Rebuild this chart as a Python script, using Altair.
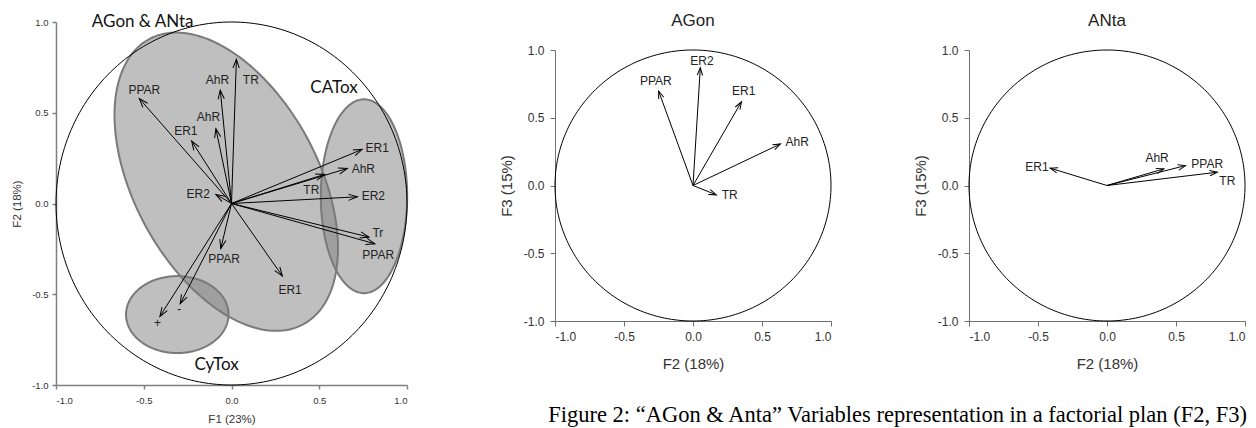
import numpy as np
import pandas as pd
import altair as alt

# ---------------- data ----------------
# Left panel: F1 (23%) x F2 (18%)
left_names = ["PPAR", "AhR", "TR", "AhR", "ER1", "ER2", "ER1", "AhR", "TR",
              "ER2", "Tr", "PPAR", "PPAR", "ER1", "+", "-"]
left_x = [-0.525, -0.064, 0.028, -0.089, -0.227, -0.089, 0.745, 0.660, 0.530,
          0.717, 0.783, 0.817, -0.061, 0.290, -0.408, -0.292]
left_y = [0.578, 0.624, 0.795, 0.412, 0.344, 0.050, 0.298, 0.193, 0.160,
          0.037, -0.185, -0.222, -0.248, -0.400, -0.622, -0.552]
left_lx = [-0.497, -0.080, 0.110, -0.131, -0.260, -0.190, 0.830, 0.751, 0.455,
           0.808, 0.834, 0.836, -0.042, 0.334, -0.421, -0.298]
left_ly = [0.624, 0.679, 0.679, 0.477, 0.399, 0.055, 0.307, 0.191, 0.072,
           0.042, -0.162, -0.285, -0.304, -0.475, -0.659, -0.580]

group_names = ["AGon & ANta", "CATox", "CyTox"]
group_lx = [-0.506, 0.584, -0.085]
group_ly = [1.0, 0.638, -0.889]
ell_cx = [-0.03, 0.755, -0.309]
ell_cy = [0.12, 0.04, -0.612]
ell_a = [0.90, 0.246, 0.292]
ell_b = [0.52, 0.534, 0.212]
ell_angle = [-60.0, 0.0, 0.0]

# AGon panel: F2 (18%) x F3 (15%)
agon_names = ["PPAR", "ER2", "ER1", "AhR", "TR"]
agon_x = [-0.249, 0.053, 0.351, 0.634, 0.169]
agon_y = [0.697, 0.869, 0.618, 0.307, -0.069]
agon_lx = [-0.269, 0.065, 0.368, 0.755, 0.266]
agon_ly = [0.771, 0.918, 0.697, 0.324, -0.069]

# ANta panel: F2 (18%) x F3 (15%)
anta_names = ["ER1", "AhR", "PPAR", "TR"]
anta_x = [-0.412, 0.412, 0.569, 0.799]
anta_y = [0.128, 0.123, 0.147, 0.098]
anta_lx = [-0.508, 0.363, 0.726, 0.872]
anta_ly = [0.133, 0.206, 0.157, 0.034]

tick_values = [-1.0, -0.5, 0.0, 0.5, 1.0]
caption = "Figure 2: \u201cAGon & Anta\u201d Variables representation in a factorial plan (F2, F3)"

# ---------------- helpers ----------------
SANS = "Liberation Sans"
MINUS_FIX = "replace(datum.label, '\u2212', '-')"
HEAD = "M -0.6 1.7 L 0 0 L 0.6 1.7"


def make_axis(title, small, orient):
    if small:
        return alt.Axis(title=title, values=tick_values, format=".1f", labelExpr=MINUS_FIX,
                        grid=False, domainColor="#808080", domainWidth=1.5,
                        tickColor="#808080", tickWidth=1.5, tickSize=4,
                        labelFont=SANS, labelFontSize=9.5, labelColor="#333333",
                        labelPadding=6 if orient == "x" else 4,
                        titleFont=SANS, titleFontSize=11.5, titleFontWeight="normal",
                        titleColor="#333333", titlePadding=9)
    return alt.Axis(title=title, values=tick_values, format=".1f", labelExpr=MINUS_FIX,
                    grid=False, domainColor="#707070", domainWidth=1,
                    tickColor="#707070", tickWidth=1, tickSize=5,
                    labelFont=SANS, labelFontSize=12, labelColor="#333333",
                    labelPadding=5 if orient == "x" else 6,
                    titleFont=SANS, titleFontSize=15, titleFontWeight="normal",
                    titleColor="#333333", titlePadding=14 if orient == "x" else 9)


def panel(names, xs, ys, lxs, lys, w, h, top, xtitle, ytitle, small, label_size,
          head_size, extra_back=(), extra_front=()):
    # top: empty pixels above the data region inside the view
    sx_scale = alt.Scale(domain=[-1, 1], nice=False, zero=False)
    sy_scale = alt.Scale(domain=[-1, 1], nice=False, zero=False, range=[h, top])
    xa = make_axis(xtitle, small, "x")
    ya = make_axis(ytitle, small, "y")

    def X(f):
        return alt.X(f, type="quantitative", scale=sx_scale, axis=xa)

    def Y(f, **kw):
        return alt.Y(f, type="quantitative", scale=sy_scale, axis=ya, **kw)

    sx, sy = w / 2.0, (h - top) / 2.0
    ang = [float(np.degrees(np.arctan2(x * sx, y * sy)) % 360) for x, y in zip(xs, ys)]
    arr = pd.DataFrame({"name": names, "x": xs, "y": ys, "lx": lxs, "ly": lys,
                        "ox": 0.0, "oy": 0.0, "ang": ang})

    t = np.linspace(0, 2 * np.pi, 241)
    circ = pd.DataFrame({"cx": np.cos(t), "cy": np.sin(t), "i": np.arange(len(t))})

    layers = []
    for mk in extra_back:
        layers.extend(mk(X, Y))
    layers.append(alt.Chart(circ).mark_line(color="black", strokeWidth=1).encode(
        x=X("cx"), y=Y("cy"), order=alt.Order("i:Q")))
    layers.append(alt.Chart(arr).mark_rule(color="black", strokeWidth=1).encode(
        x=X("x"), y=Y("y"), x2=alt.X2("ox"), y2=alt.Y2("oy")))
    layers.append(alt.Chart(arr).mark_point(shape=HEAD, filled=False, color="black",
                                            strokeWidth=1, opacity=1, size=head_size).encode(
        x=X("x"), y=Y("y"), angle=alt.Angle("ang:Q", scale=None)))
    layers.append(alt.Chart(arr).mark_text(font=SANS, fontSize=label_size, color="#222222",
                                           align="center", baseline="middle").encode(
        x=X("lx"), y=Y("ly"), text="name:N"))
    for mk in extra_front:
        layers.extend(mk(X, Y))
    return alt.layer(*layers).properties(width=w, height=h)


# ellipse geometry for the left panel
area_frames, line_rows = [], []
for g, cx, cy, a, b, th in zip(group_names, ell_cx, ell_cy, ell_a, ell_b, ell_angle):
    r = np.radians(th)
    R = np.array([[np.cos(r), -np.sin(r)], [np.sin(r), np.cos(r)]])
    S = R @ np.diag([a * a, b * b]) @ R.T
    M = np.linalg.inv(S)
    hx = np.sqrt(S[0, 0])
    rows = []
    for s in np.linspace(np.pi, 0, 161):
        dx = hx * np.cos(s)
        disc = max(M[0, 1] ** 2 * dx * dx - M[1, 1] * (M[0, 0] * dx * dx - 1), 0.0)
        y1 = (-M[0, 1] * dx + np.sqrt(disc)) / M[1, 1]
        y2 = (-M[0, 1] * dx - np.sqrt(disc)) / M[1, 1]
        rows.append({"ex": float(cx + dx), "hi": float(cy + y1), "lo": float(cy + y2)})
    area_frames.append(pd.DataFrame(rows))
    for i, tt in enumerate(np.linspace(0, 2 * np.pi, 241)):
        line_rows.append({"g": g, "i": i,
                          "ex": float(cx + a * np.cos(r) * np.cos(tt) - b * np.sin(r) * np.sin(tt)),
                          "ey": float(cy + a * np.sin(r) * np.cos(tt) + b * np.cos(r) * np.sin(tt))})
ell_line = pd.DataFrame(line_rows)
groups = pd.DataFrame({"name": group_names, "lx": group_lx, "ly": group_ly})


def ell_fill(X, Y):
    out = []
    for df in area_frames:
        out.append(alt.Chart(df).mark_area(color="#808080", fillOpacity=0.5,
                                           orient="vertical", strokeWidth=0).encode(
            x=X("ex"), y=Y("hi", stack=None), y2=alt.Y2("lo")))
    return out


def ell_outline(X, Y):
    return [alt.Chart(ell_line).mark_line(color="#7a7a7a", strokeWidth=2).encode(
        x=X("ex"), y=Y("ey"), detail="g:N", order=alt.Order("i:Q"))]


def group_text(X, Y):
    return [alt.Chart(groups).mark_text(font="Lato", fontSize=17, color="#111111",
                                        align="center", baseline="middle").encode(
        x=X("lx"), y=Y("ly"), text="name:N")]


left = panel(left_names, left_x, left_y, left_lx, left_ly, 351, 363, 0,
             "F1 (23%)", "F2 (18%)", True, 12, 110,
             extra_back=(ell_fill, ell_outline), extra_front=(group_text,))

title_style = dict(font=SANS, fontSize=17, fontWeight="normal", color="#222222", offset=-8)
mid = panel(agon_names, agon_x, agon_y, agon_lx, agon_ly, 276, 299, 28,
            "F2 (18%)", "F3 (15%)", False, 12, 80).properties(
    title=alt.TitleParams("AGon", **title_style))
right = panel(anta_names, anta_x, anta_y, anta_lx, anta_ly, 276, 299, 28,
              "F2 (18%)", "F3 (15%)", False, 12, 80).properties(
    title=alt.TitleParams("ANta", **title_style))

inner = alt.hconcat(mid, right, spacing=80).properties(
    title=alt.TitleParams(caption, orient="bottom", anchor="end", font="Liberation Serif",
                          fontSize=22.5, fontWeight="normal", color="#000000", offset=33))

chart = alt.hconcat(left, inner, spacing=87).properties(
    padding={"left": 3, "top": 4, "right": 0, "bottom": 0},
    background="white",
).configure_view(stroke=None)

chart.save("out.html", embed_options={"renderer": "svg", "actions": False})
